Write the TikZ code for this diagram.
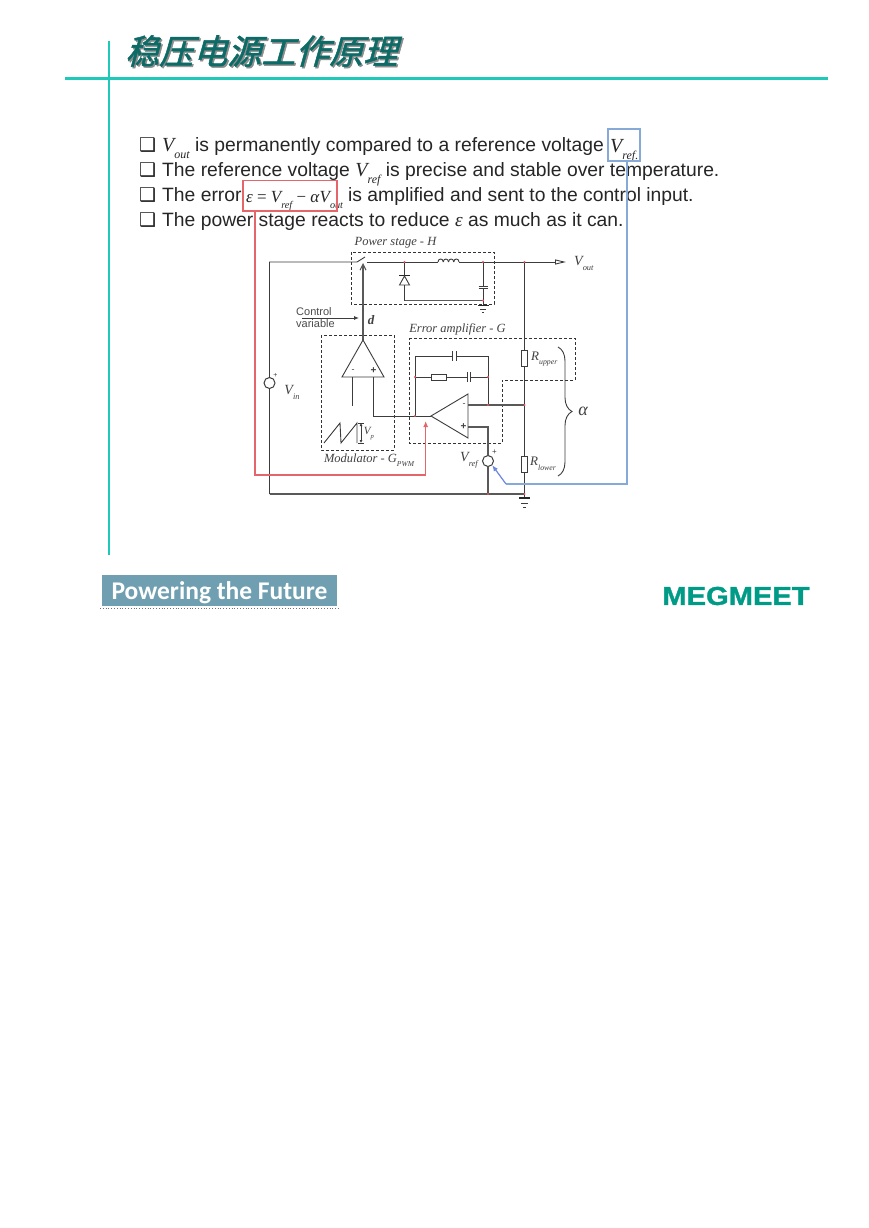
\documentclass[tikz,border=0pt]{standalone}
\usepackage{fontspec}
\setmainfont{Liberation Sans}
\newfontfamily\serifit{Liberation Serif}
\newfontfamily\dejavu{DejaVu Sans}
\newfontfamily\carlito{Carlito}
\newfontfamily\logofont[FakeBold=1.2]{Liberation Sans Bold}
\newfontfamily\cjk[FakeSlant=0.28,FakeBold=1.5]{Noto Sans CJK SC}
\usetikzlibrary{arrows.meta,decorations.pathreplacing}
\definecolor{tealline}{HTML}{1FC9BA}
\definecolor{titlegreen}{HTML}{0C6B66}
\definecolor{footblue}{HTML}{6F9FB1}
\definecolor{logogreen}{HTML}{009B86}
\definecolor{wirecol}{HTML}{3C3C3C}
\definecolor{redcol}{HTML}{E4666B}
\definecolor{bluecol}{HTML}{86A9D8}
\newcommand{\sized}[1]{\fontsize{#1}{#1}\selectfont}
\newcommand{\subv}[3]{{\serifit\itshape\sized{#3}#1\dimen0=#3pt \dimen0=.6\dimen0 \edef\subsz{\the\dimen0}\raisebox{-.36em}{\fontsize{\subsz}{\subsz}\selectfont #2}}}
\newcommand{\bul}{\makebox[23pt][l]{\dejavu\sized{19}^^^^2751}}
\tikzset{
  wire/.style = {draw=wirecol, line width=0.9},
  boldwire/.style = {draw=black!65, line width=1.05},
  dashbox/.style = {draw=black!80, line width=0.8, dash pattern=on 3pt off 2pt},
  jdot/.style = {circle, fill=redcol!80!red, minimum size=2.4pt, inner sep=0pt, outer sep=0pt},
  resbox/.style = {draw=wirecol, fill=white, line width=0.8, inner sep=0pt, minimum width=#1},
  srcbox/.style = {circle, draw=wirecol, fill=white, line width=1, inner sep=0pt, minimum size=11pt},
  txtline/.style = {anchor=base west, inner sep=0pt, text=black!85, font=\sized{19.3}},
  lab/.style = {inner sep=0pt, text=black!75},
  redline/.style = {draw=redcol, line width=1.2},
  blueline/.style = {draw=bluecol, line width=1.2}
}
\begin{document}
\begin{tikzpicture}[x=1pt,y=-1pt]
	\useasboundingbox (0,0) rectangle (868,1228);
	\fill[white] (0,0) rectangle (868,1228);

	% Title and frame
	\node[inner sep=0pt, anchor=west, text=black!45, font=\cjk\sized{34}] (titleshadow) at (126.5,52.5) {稳压电源工作原理};
	\node[inner sep=0pt, anchor=west, text=titlegreen, font=\cjk\sized{34}] (title) at (125,51) {稳压电源工作原理};
	\draw[tealline, line width=2.5] (65,78.5) -- (828,78.5);
	\draw[tealline, line width=2.5] (109,41) -- (109,555);

	% Text lines
	\node[txtline] (line1) at (139,151.7) {\bul\subv{V}{out}{20} is permanently compared to a reference voltage};
	\node[txtline] (line2) at (139,176.7) {\bul The reference voltage \subv{V}{ref}{20} is precise and stable over temperature.};
	\node[txtline] (line3) at (139,201) {\bul The error};
	\node[txtline] (line3b) at (348,201) {is amplified and sent to the control input.};
	\node[txtline] (line4) at (139,226) {\bul The power stage reacts to reduce {\serifit\itshape ε} as much as it can.};
	\node[txtline] (vreftxt) at (610,152) {\subv{V}{ref.}{20}};
	\node[txtline, font=\serifit\sized{17}] (errtxt) at (246,202) {\textit{ε} = \subv{V}{ref}{17} − \textit{α}\subv{V}{out}{17}};

	% Main coordinates
	\coordinate (vintop) at (269.5,262);
	\coordinate (vinbot) at (269.5,494);
	\coordinate (swa) at (357,262);
	\coordinate (swb) at (367,262);
	\coordinate (swt) at (365,257);
	\coordinate (indl) at (438,262);
	\coordinate (indr) at (459,262);
	\coordinate (vout) at (566,262);
	\coordinate (caps) at (483,286);
	\coordinate (capg) at (483,305);
	\coordinate (outg) at (524.5,498);
	\coordinate (cmpa) at (363,340);
	\coordinate (cmpl) at (342,377);
	\coordinate (cmpr) at (384,377);
	\coordinate (ampa) at (431,416);
	\coordinate (ampt) at (468,394);
	\coordinate (ampb) at (468,438);

	% Power stage
	\draw[dashbox] (351,252) rectangle (494,304);
	\node[lab, font=\serifit\itshape\sized{12.5}] (powerlab) at (395.5,243) {Power stage - H};
	\draw[wire] (vinbot) -- (vintop) -- (swa) -- (swt);
	\draw[wire] (swb) -- (indl);
	\foreach \i in {0,1,2,3}
		\draw[wire] ({438+5.25*\i},262) .. controls ({438+5.25*\i},258) and ({443.25+5.25*\i},258) .. ({443.25+5.25*\i},262);
	\draw[wire, -{Triangle[open,length=11pt,width=5pt]}] (indr) -- (vout);
	\node[lab, font=\serifit, anchor=west] (voutlab) at (574,263) {\subv{V}{out}{14}};

	% Diode, capacitor
	\coordinate (dtop) at (404.5,262);
	\coordinate (dbot) at (404.5,300.5);
	\coordinate (cbot) at (483,300.5);
	\draw[wire] (dtop) -- (404.5,275);
	\draw[wire] (404.5,285) -- (dbot);
	\draw[boldwire] (dbot) -- (cbot);
	\draw[boldwire, draw=black!85, line width=1.6] (399,275.5) -- (410,275.5);
	\draw[wire] (404.5,276) -- (399.5,285) -- (409.5,285) -- cycle;
	\draw[wire] (483,262) -- (caps);
	\draw[wire] (478.5,286) -- (487.5,286);
	\draw[wire] (478.5,288.5) -- (487.5,288.5);
	\draw[wire] (483,288.5) -- (capg);
	\draw[boldwire, draw=black!85, line width=1.2] (478,305.5) -- (489,305.5);
	\draw[wire] (480,309) -- (486,309);
	\draw[wire] (482,312.5) -- (484,312.5);

	% Control variable
	\node[lab, anchor=west, align=left, font=\sized{11}, text=black!70] (ctrl) at (296,317.5) {Control\\[1pt]variable};
	\coordinate (ctrlend) at (359,318);
	\draw[wire, -{Latex[length=5pt,width=4pt]}] (302,318) -- (ctrlend);
	\node[lab, font=\serifit\itshape\bfseries\sized{13}] (dlab) at (371,320) {d};

	% Modulator
	\draw[dashbox] (321,335) rectangle (394,450);
	\node[lab, font=\serifit\itshape\sized{12.5}] (modlab) at (369,460) {Modulator - \subv{G}{PWM}{12.5}};
	\draw[boldwire, -{Straight Barb[length=6pt,width=6pt]}] (cmpa) -- (363,263);
	\draw[wire] (cmpa) -- (cmpl) -- (cmpr) -- cycle;
	\node[lab, font=\sized{9}] (cmpm) at (353,371) {-};
	\node[lab, font=\bfseries\sized{10}] (cmpp) at (373.5,371) {+};
	\draw[wire] (352,377) -- (352,406);
	\draw[wire] (373.5,377) -- (373.5,416) -- (ampa);
	\draw[wire] (324,443) -- (340,423) -- (341,443) -- (357,423) -- (357,443);
	\draw[wire, line width=0.7, {Latex[length=3pt,width=3pt]}-{Latex[length=3pt,width=3pt]}] (361,423) -- (361,443);
	\draw[wire] (358,423) -- (364,423);
	\draw[wire] (358,443) -- (364,443);
	\node[lab, font=\serifit] (vplab) at (369,434) {\subv{V}{p}{11}};

	% Error amplifier
	\draw[dashbox] (409,338) -- (575,338) -- (575,380) -- (502,380) -- (502,443) -- (409,443) -- cycle;
	\node[lab, font=\serifit\itshape\sized{12.5}] (errlab) at (457.5,329) {Error amplifier - G};
	\draw[wire] (ampa) -- (ampt) -- (ampb) -- cycle;
	\node[lab, font=\sized{9}] (ampm) at (464,405) {-};
	\node[lab, font=\bfseries\sized{10}] (ampp) at (463.5,427) {+};
	% Feedback
	\coordinate (fbl) at (415,416);
	\coordinate (fbr) at (488,405);
	\coordinate (vdiv) at (524.5,405);
	\draw[wire] (fbl) -- (415,356) -- (452.5,356);
	\draw[wire] (456,356) -- (488,356) -- (fbr);
	\draw[wire] (452.5,351) -- (452.5,361);
	\draw[wire] (456,351) -- (456,361);
	\node[resbox=15pt, minimum height=6pt] (rfb) at (438.5,377) {};
	\draw[wire] (415,377) -- (rfb);
	\draw[wire] (rfb) -- (467.5,377);
	\draw[wire] (470.5,377) -- (488,377);
	\draw[wire] (467.5,372) -- (467.5,382);
	\draw[wire] (470.5,372) -- (470.5,382);
	\draw[boldwire] (468,405) -- (vdiv);
	\node[srcbox] (vrefsrc) at (488,461) {};
	\draw[boldwire] (468,427) -- (488,427) -- (vrefsrc);
	\draw[boldwire] (vrefsrc) -- (488,494);
	\node[lab, font=\serifit] (vreflab) at (469,460) {\subv{V}{ref}{14}};
	\node[lab, font=\sized{8}] (vrefp) at (494.5,452) {+};

	% Divider
	\node[resbox=6pt, minimum height=15.5pt] (rupper) at (524.5,358.5) {};
	\node[resbox=6pt, minimum height=16pt] (rlower) at (524.5,464) {};
	\draw[wire] (524.5,262) -- (rupper);
	\draw[wire] (rupper) -- (rlower);
	\draw[wire] (rlower) -- (outg);
	\node[lab, font=\serifit, anchor=west] (ruplab) at (531,359) {\subv{R}{upper}{13}};
	\node[lab, font=\serifit, anchor=west] (rlowlab) at (530,464) {\subv{R}{lower}{13}};
	\draw[boldwire, draw=black!85, line width=1.2] (519,498) -- (530,498);
	\draw[wire] (521,503) -- (528,503);
	\draw[wire] (523,507) -- (526,507);
	\draw[wire, decorate, decoration={brace, amplitude=14pt}] (558,347) -- (558,476);
	\node[lab, font=\serifit\itshape\sized{18}] (alab) at (583,411) {α};

	% Input source, bottom wire
	\node[srcbox] (vinsrc) at (269.5,383) {};
	\node[lab, font=\sized{7}] (vinp) at (275.5,375) {+};
	\node[lab, font=\serifit] (vinlab) at (292,392) {\subv{V}{in}{14}};
	\draw[boldwire] (vinbot) -- (outg |- vinbot);

	% Junctions
	\foreach \p in {dtop,cbot,fbl,fbr,vdiv} \node[jdot] at (\p) {};
	\foreach \x/\y in {483/262,524.5/262,415/377,488/377,488/494,524.5/494} \node[jdot] at (\x,\y) {};

	% Red path
	\draw[redline] (243,180.5) rectangle (337,211);
	\coordinate (redin) at (425.7,421);
	\draw[redline, -{Latex[length=6pt,width=5pt]}] (255,211) -- (255,475) -- (425.7,475) -- (redin);

	% Blue path
	\draw[blueline] (608,129) rectangle (640,161);
	\draw[blueline] (627,161) -- (627,484) -- (506,484);
	\draw[blueline, draw=bluecol!80!blue, -{Latex[length=6pt,width=5pt]}] (506,484) -- (vrefsrc.south east);

	% Footer
	\node[fill=footblue, minimum width=235pt, minimum height=31pt, inner sep=0pt] (brand) at (219.5,590.5) {};
	\node[inner sep=0pt, text=white, font=\carlito\bfseries\sized{25.5}] (brandtxt) at (219.5,592.5) {Powering the Future};
	\draw[black!55, line width=0.8, dotted] (100,608) -- (340,608);
	\node[inner sep=0pt, text=logogreen, font=\logofont\sized{26}, xscale=1.12] (logo) at (736,596) {MEGMEET};
\end{tikzpicture}
\end{document}
